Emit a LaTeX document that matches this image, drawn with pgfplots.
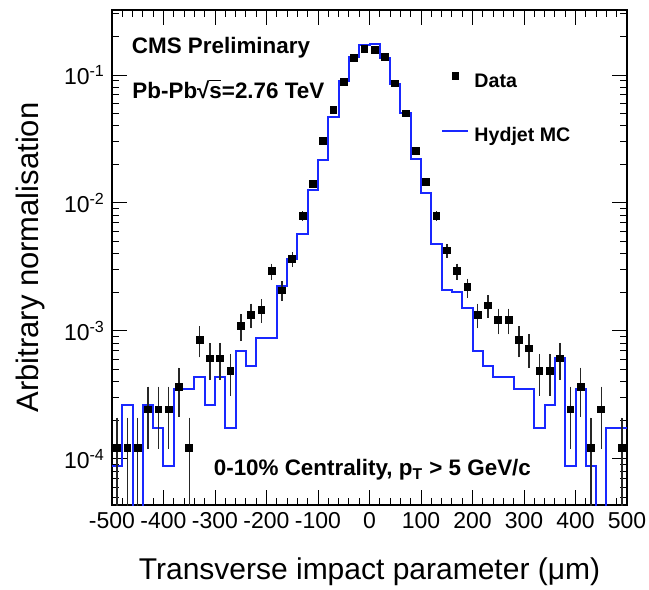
\documentclass[border=0pt]{standalone}
\usepackage{fontspec}
\setmainfont{Liberation Sans}
\usepackage{pgfplots}
\pgfplotsset{compat=1.18}
\begin{document}
\begin{tikzpicture}
\begin{axis}[
  name=ax,
  scale only axis, width=257.5pt, height=247.5pt,
  xmin=-500, xmax=500, ymode=log, ymin=4.37e-5, ymax=0.322,
  xtick={-500,-400,...,500}, minor x tick num=4,
  ytick={1e-4,1e-3,1e-2,1e-1},
  yticklabels={10\textsuperscript{-4},10\textsuperscript{-3},10\textsuperscript{-2},10\textsuperscript{-1}},
  minor ytick={5e-5,6e-5,7e-5,8e-5,9e-5,2e-4,3e-4,4e-4,5e-4,6e-4,7e-4,8e-4,9e-4,2e-3,3e-3,4e-3,5e-3,6e-3,7e-3,8e-3,9e-3,2e-2,3e-2,4e-2,5e-2,6e-2,7e-2,8e-2,9e-2,0.2,0.3},
  tick align=inside,
  major tick length=7.5pt, minor tick length=3.75pt,
  every tick/.style={black, line width=0.5pt},
  axis line style={line width=0.6pt},
  ticklabel style={font=\fontsize{11.5}{13}\selectfont},
  xticklabel style={/pgf/number format/assume math mode=true},
  xlabel={Transverse impact parameter (μm)},
  ylabel={Arbitrary normalisation},
  xlabel style={font=\fontsize{15}{18}\selectfont, at={(axis description cs:0.5,-0.135)}, anchor=center},
  ylabel style={font=\fontsize{15.5}{18}\selectfont, at={(axis description cs:-0.159,0.5)}, anchor=center},
  reverse legend,
  legend cell align=left,
  legend style={at={(rel axis cs:0.639,0.875)}, anchor=north west, draw=none, fill=none, inner sep=0pt,
    font=\bfseries\fontsize{9.8}{11}\selectfont, row sep=17.5pt,
    nodes={inner sep=0pt, text height=7.5pt, text depth=2pt},
    /tikz/every odd column/.append style={column sep=2.5pt}},
]
\addplot[const plot, color={rgb,255:red,25;green,40;blue,255}, line width=1pt, mark=none,
  legend image code/.code={\draw[color={rgb,255:red,25;green,40;blue,255}, line width=1pt] (0pt,2.5pt) -- (13pt,2.5pt);}]
coordinates {
(-500,8.8e-5) (-480,2.64e-4) (-460,1e-7) (-440,2.64e-4) (-420,1.76e-4) (-400,8.8e-5)
(-380,3.52e-4) (-360,3.52e-4) (-340,4.4e-4) (-320,2.64e-4) (-300,4.4e-4) (-280,1.76e-4)
(-260,7.04e-4) (-240,5.28e-4) (-220,8.8e-4) (-200,8.8e-4) (-180,2.26e-3) (-160,3.67e-3)
(-140,5.75e-3) (-120,0.0126) (-100,0.0217) (-80,0.0466) (-60,0.0900) (-40,0.138)
(-20,0.172) (0,0.176) (20,0.136) (40,0.085) (60,0.0505) (80,0.0219) (100,0.0119)
(120,4.78e-3) (140,2.09e-3) (160,2.0e-3) (180,1.50e-3) (200,7.04e-4) (220,5.28e-4)
(240,4.4e-4) (260,4.4e-4) (280,3.52e-4) (300,3.52e-4) (320,1.76e-4) (340,2.64e-4)
(360,6.16e-4) (380,8.8e-5) (400,3.52e-4) (420,8.8e-5) (440,1e-7) (460,1.76e-4)
(480,1.76e-4) (500,1.76e-4)
};
\addlegendentry{Hydjet MC}
\addplot[only marks, mark=square*, mark size=1.7pt, black, fill=black,
  legend image code/.code={\path[draw=none, fill=none] (0pt,3pt) rectangle (13pt,3pt); \draw[black, fill=black, mark=square*, mark size=1.7pt] plot coordinates {(6.5pt,3pt)};},
  error bars/.cd, y dir=both, y explicit, error mark=none,
  error bar style={line width=0.75pt, black!85}]
table[x=x, y=y, y error=e] {
x y e
-490 1.22e-4 8.8e-5
-470 1.22e-4 8.8e-5
-450 1.22e-4 8.8e-5
-430 2.44e-4 1.24e-4
-410 2.44e-4 1.24e-4
-390 2.44e-4 1.24e-4
-370 3.66e-4 1.52e-4
-350 1.22e-4 8.8e-5
-330 8.54e-4 2.33e-4
-310 6.10e-4 1.97e-4
-290 6.10e-4 1.97e-4
-270 4.88e-4 1.76e-4
-250 1.098e-3 2.64e-4
-230 1.342e-3 2.92e-4
-210 1.464e-3 3.05e-4
-190 2.928e-3 4.31e-4
-170 2.074e-3 3.63e-4
-150 3.66e-3 4.82e-4
-130 7.93e-3 7.09e-4
-110 0.0140 9.4e-4
-90 0.0307 1.40e-3
-70 0.0533 1.84e-3
-50 0.0887 2.37e-3
-30 0.1365 2.96e-3
-10 0.159 3.2e-3
10 0.156 3.2e-3
30 0.139 3.0e-3
50 0.0861 2.3e-3
70 0.0502 1.8e-3
90 0.0257 1.28e-3
110 0.0147 9.6e-4
130 7.93e-3 7.09e-4
150 4.27e-3 5.21e-4
170 2.928e-3 4.31e-4
190 2.196e-3 3.73e-4
210 1.342e-3 2.92e-4
230 1.586e-3 3.17e-4
250 1.22e-3 2.78e-4
270 1.22e-3 2.78e-4
290 8.54e-4 2.33e-4
310 7.32e-4 2.16e-4
330 4.88e-4 1.76e-4
350 4.88e-4 1.76e-4
370 6.10e-4 1.97e-4
390 2.44e-4 1.24e-4
410 3.66e-4 1.52e-4
430 1.22e-4 8.8e-5
450 2.44e-4 1.24e-4
490 1.22e-4 8.8e-5
};
\addlegendentry{Data}
\node[anchor=west, inner sep=0pt, font=\bfseries\fontsize{11.2}{13}\selectfont] at (rel axis cs:0.038,0.923) {CMS Preliminary};
\node[anchor=west, inner sep=0pt, font=\bfseries\fontsize{11.2}{13}\selectfont] at (rel axis cs:0.039,0.840) {Pb-Pb√\rlap{\rule[0.76em]{0.52em}{0.07em}}s=2.76 TeV};
\node[anchor=west, inner sep=0pt, font=\bfseries\fontsize{11.2}{13}\selectfont] at (rel axis cs:0.197,0.0707) {0-10\% Centrality, p\textsubscript{T} > 5 GeV/c};
\end{axis}
\pgfresetboundingbox
\useasboundingbox ([xshift=-56pt,yshift=-42.5pt]ax.south west) rectangle ([xshift=11pt,yshift=5pt]ax.north east);
\end{tikzpicture}
\end{document}
